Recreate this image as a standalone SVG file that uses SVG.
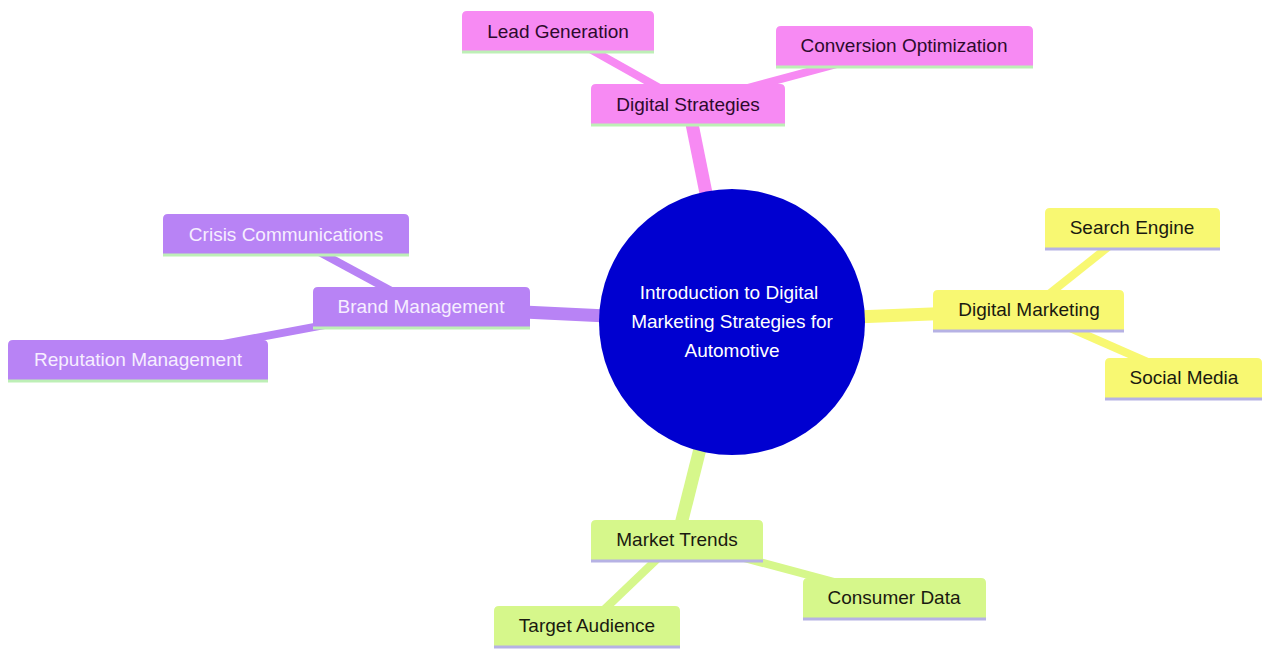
<svg xmlns="http://www.w3.org/2000/svg" width="1262" height="649" viewBox="0 0 1262 649">
<style>
text{font-family:"Liberation Sans",Arial,sans-serif;font-size:19px;text-anchor:middle}
.e1{stroke-width:13;stroke-linecap:butt;fill:none}
.e2{stroke-width:8;stroke-linecap:butt;fill:none}
.pk{fill:#f78af3;stroke:#f78af3}
.pu{fill:#b883f5;stroke:#b883f5}
.ye{fill:#f8f872;stroke:#f8f872}
.gr{fill:#d6f78b;stroke:#d6f78b}
.bg{stroke:none}
.lg{stroke:#bdefb6;stroke-width:3}
.lv{stroke:#b6b2e4;stroke-width:3}
.tpk{fill:#2d0a2d}
.tpu{fill:#f6eeff}
.tdk{fill:#1a1a10}
</style>
<rect width="1262" height="649" fill="#ffffff"/>
<g id="connectors">
<line class="e1 pk" x1="732" y1="322" x2="688" y2="104"/>
<line class="e2 pk" x1="688" y1="104" x2="558" y2="31"/>
<line class="e2 pk" x1="688" y1="104" x2="904" y2="46"/>
<line class="e1 pu" x1="732" y1="322" x2="421" y2="307"/>
<line class="e2 pu" x1="421" y1="307" x2="286" y2="234"/>
<line class="e2 pu" x1="421" y1="307" x2="138" y2="360"/>
<line class="e1 ye" x1="732" y1="322" x2="1029" y2="310"/>
<line class="e2 ye" x1="1029" y1="310" x2="1132" y2="228"/>
<line class="e2 ye" x1="1029" y1="310" x2="1184" y2="378"/>
<line class="e1 gr" x1="732" y1="322" x2="677" y2="540"/>
<line class="e2 gr" x1="677" y1="540" x2="587" y2="626"/>
<line class="e2 gr" x1="677" y1="540" x2="894" y2="598"/>
</g>
<g id="root">
<circle cx="732" cy="322" r="133" fill="#0000d0"/>
<text x="729" y="299" fill="#ffffff">Introduction to Digital</text>
<text x="732" y="328" fill="#ffffff">Marketing Strategies for</text>
<text x="732" y="357" fill="#ffffff">Automotive</text>
</g>
<g id="digital-strategies">
<path class="pk bg" d="M591 124v-35q0-5 5-5h184q5 0 5 5v35z"/>
<line class="lg" x1="591" y1="125" x2="785" y2="125"/>
<text class="tpk" x="688" y="110.5">Digital Strategies</text>
</g>
<g id="lead-generation">
<path class="pk bg" d="M462 51v-35q0-5 5-5h182q5 0 5 5v35z"/>
<line class="lg" x1="462" y1="52" x2="654" y2="52"/>
<text class="tpk" x="558" y="37.5">Lead Generation</text>
</g>
<g id="conversion-optimization">
<path class="pk bg" d="M776 66v-35q0-5 5-5h247q5 0 5 5v35z"/>
<line class="lg" x1="776" y1="67" x2="1033" y2="67"/>
<text class="tpk" x="904" y="52">Conversion Optimization</text>
</g>
<g id="brand-management">
<path class="pu bg" d="M313 327v-35q0-5 5-5h207q5 0 5 5v35z"/>
<line class="lg" x1="313" y1="328" x2="530" y2="328"/>
<text class="tpu" x="421" y="313">Brand Management</text>
</g>
<g id="crisis-communications">
<path class="pu bg" d="M163 254v-35q0-5 5-5h236q5 0 5 5v35z"/>
<line class="lg" x1="163" y1="255" x2="409" y2="255"/>
<text class="tpu" x="286" y="241">Crisis Communications</text>
</g>
<g id="reputation-management">
<path class="pu bg" d="M8 380v-35q0-5 5-5h250q5 0 5 5v35z"/>
<line class="lg" x1="8" y1="381" x2="268" y2="381"/>
<text class="tpu" x="138" y="366">Reputation Management</text>
</g>
<g id="digital-marketing">
<path class="ye bg" d="M933 330v-35q0-5 5-5h181q5 0 5 5v35z"/>
<line class="lv" x1="933" y1="331" x2="1124" y2="331"/>
<text class="tdk" x="1029" y="316">Digital Marketing</text>
</g>
<g id="search-engine">
<path class="ye bg" d="M1045 248v-35q0-5 5-5h165q5 0 5 5v35z"/>
<line class="lv" x1="1045" y1="249" x2="1220" y2="249"/>
<text class="tdk" x="1132" y="234">Search Engine</text>
</g>
<g id="social-media">
<path class="ye bg" d="M1105 398v-35q0-5 5-5h147q5 0 5 5v35z"/>
<line class="lv" x1="1105" y1="399" x2="1262" y2="399"/>
<text class="tdk" x="1184" y="384">Social Media</text>
</g>
<g id="market-trends">
<path class="gr bg" d="M591 560v-35q0-5 5-5h162q5 0 5 5v35z"/>
<line class="lv" x1="591" y1="561" x2="763" y2="561"/>
<text class="tdk" x="677" y="546">Market Trends</text>
</g>
<g id="consumer-data">
<path class="gr bg" d="M803 618v-35q0-5 5-5h173q5 0 5 5v35z"/>
<line class="lv" x1="803" y1="619" x2="986" y2="619"/>
<text class="tdk" x="894" y="604">Consumer Data</text>
</g>
<g id="target-audience">
<path class="gr bg" d="M494 646v-35q0-5 5-5h176q5 0 5 5v35z"/>
<line class="lv" x1="494" y1="647" x2="680" y2="647"/>
<text class="tdk" x="587" y="632">Target Audience</text>
</g>
</svg>
